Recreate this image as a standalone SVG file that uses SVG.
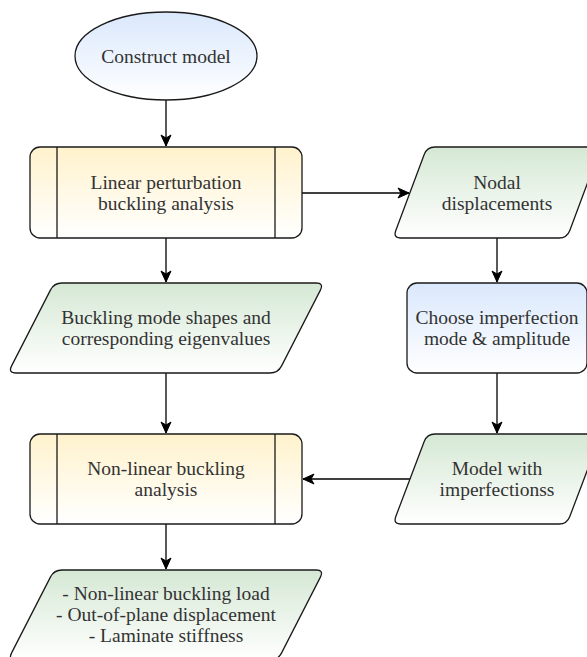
<svg xmlns="http://www.w3.org/2000/svg" width="587" height="657" viewBox="0 0 587 657">
  <style>
    .shape { stroke: #1a1a1a; stroke-width: 1.3; }
    .edge { fill: none; stroke: #000; stroke-width: 1.3; }
    .label { font-family: "Liberation Serif", "DejaVu Serif", serif; font-size: 19.5px; fill: #333; text-anchor: middle; }
  </style>
  <defs>
    <linearGradient id="gBlue" x1="0" y1="0" x2="0" y2="1">
      <stop offset="0" stop-color="#dae8fc"/>
      <stop offset="1" stop-color="#ffffff"/>
    </linearGradient>
    <linearGradient id="gYellow" x1="0" y1="0" x2="0" y2="1">
      <stop offset="0" stop-color="#fff2cc"/>
      <stop offset="1" stop-color="#ffffff"/>
    </linearGradient>
    <linearGradient id="gGreen" x1="0" y1="0" x2="0" y2="1">
      <stop offset="0" stop-color="#d5e8d4"/>
      <stop offset="1" stop-color="#ffffff"/>
    </linearGradient>
    <marker id="arrow" markerUnits="userSpaceOnUse" markerWidth="13" markerHeight="13" viewBox="0 0 13 13" refX="12" refY="6.5" orient="auto">
      <path d="M1,1.5 L12,6.5 L1,11.5 L4,6.5 Z" fill="#000" stroke="#000" stroke-width="1"/>
    </marker>
  </defs>

  <!-- connectors -->
  <g id="connectors">
    <line class="edge" x1="166" y1="100" x2="166" y2="146" marker-end="url(#arrow)"/>
    <line class="edge" x1="302" y1="193" x2="409" y2="193" marker-end="url(#arrow)"/>
    <line class="edge" x1="166" y1="238" x2="166" y2="282" marker-end="url(#arrow)"/>
    <line class="edge" x1="497" y1="238" x2="497" y2="282" marker-end="url(#arrow)"/>
    <line class="edge" x1="166" y1="373" x2="166" y2="433" marker-end="url(#arrow)"/>
    <line class="edge" x1="497" y1="373" x2="497" y2="433" marker-end="url(#arrow)"/>
    <line class="edge" x1="410" y1="479" x2="303" y2="479" marker-end="url(#arrow)"/>
    <line class="edge" x1="166" y1="524" x2="166" y2="569" marker-end="url(#arrow)"/>
  </g>

  <!-- start: construct model -->
  <g id="construct-model">
    <ellipse class="shape" cx="166" cy="56" rx="91" ry="44" fill="url(#gBlue)"/>
    <text class="label" x="166" y="63">Construct model</text>
  </g>

  <!-- linear perturbation step -->
  <g id="linear-buckling">
    <rect class="shape" x="30" y="147" width="272" height="91" rx="10" fill="url(#gYellow)"/>
    <line class="shape" x1="57" y1="147" x2="57" y2="238"/>
    <line class="shape" x1="275" y1="147" x2="275" y2="238"/>
    <text class="label" x="166" y="189">Linear perturbation</text>
    <text class="label" x="166" y="210">buckling analysis</text>
  </g>

  <!-- nodal displacements output -->
  <g id="nodal-displacements">
    <path class="shape" fill="url(#gGreen)" d="M435,147 L593,147 Q601,147 598.2,154.5 L569.8,230.5 Q567,238 559,238 L401,238 Q393,238 395.8,230.5 L424.2,154.5 Q427,147 435,147 Z"/>
    <text class="label" x="497" y="189">Nodal</text>
    <text class="label" x="497" y="210">displacements</text>
  </g>

  <!-- mode shapes output -->
  <g id="mode-shapes">
    <path class="shape" fill="url(#gGreen)" d="M62,283 L316,283 Q324,283 320.4,290.1 L281.6,365.9 Q278,373 270,373 L16,373 Q8,373 11.6,365.9 L50.4,290.1 Q54,283 62,283 Z"/>
    <text class="label" x="166" y="324">Buckling mode shapes and</text>
    <text class="label" x="166" y="345">corresponding eigenvalues</text>
  </g>

  <!-- imperfection selection -->
  <g id="choose-imperfection">
    <rect class="shape" x="407" y="283" width="180" height="90" rx="10" fill="url(#gBlue)"/>
    <text class="label" x="497" y="324">Choose imperfection</text>
    <text class="label" x="497" y="345">mode &amp; amplitude</text>
  </g>

  <!-- non-linear analysis step -->
  <g id="nonlinear-buckling">
    <rect class="shape" x="30" y="434" width="272" height="90" rx="10" fill="url(#gYellow)"/>
    <line class="shape" x1="57" y1="434" x2="57" y2="524"/>
    <line class="shape" x1="275" y1="434" x2="275" y2="524"/>
    <text class="label" x="166" y="475">Non-linear buckling</text>
    <text class="label" x="166" y="496">analysis</text>
  </g>

  <!-- imperfect model -->
  <g id="imperfect-model">
    <path class="shape" fill="url(#gGreen)" d="M435,434 L593,434 Q601,434 598.2,441.5 L569.8,516.5 Q567,524 559,524 L401,524 Q393,524 395.8,516.5 L424.2,441.5 Q427,434 435,434 Z"/>
    <text class="label" x="497" y="475">Model with</text>
    <text class="label" x="497" y="496">imperfectionss</text>
  </g>

  <!-- results -->
  <g id="results">
    <path class="shape" fill="url(#gGreen)" d="M62,570 L316,570 Q324,570 320.4,577.1 L281.6,652.9 Q278,660 270,660 L16,660 Q8,660 11.6,652.9 L50.4,577.1 Q54,570 62,570 Z"/>
    <text class="label" x="166" y="600">- Non-linear buckling load</text>
    <text class="label" x="166" y="621">- Out-of-plane displacement</text>
    <text class="label" x="166" y="642">- Laminate stiffness</text>
  </g>
</svg>
